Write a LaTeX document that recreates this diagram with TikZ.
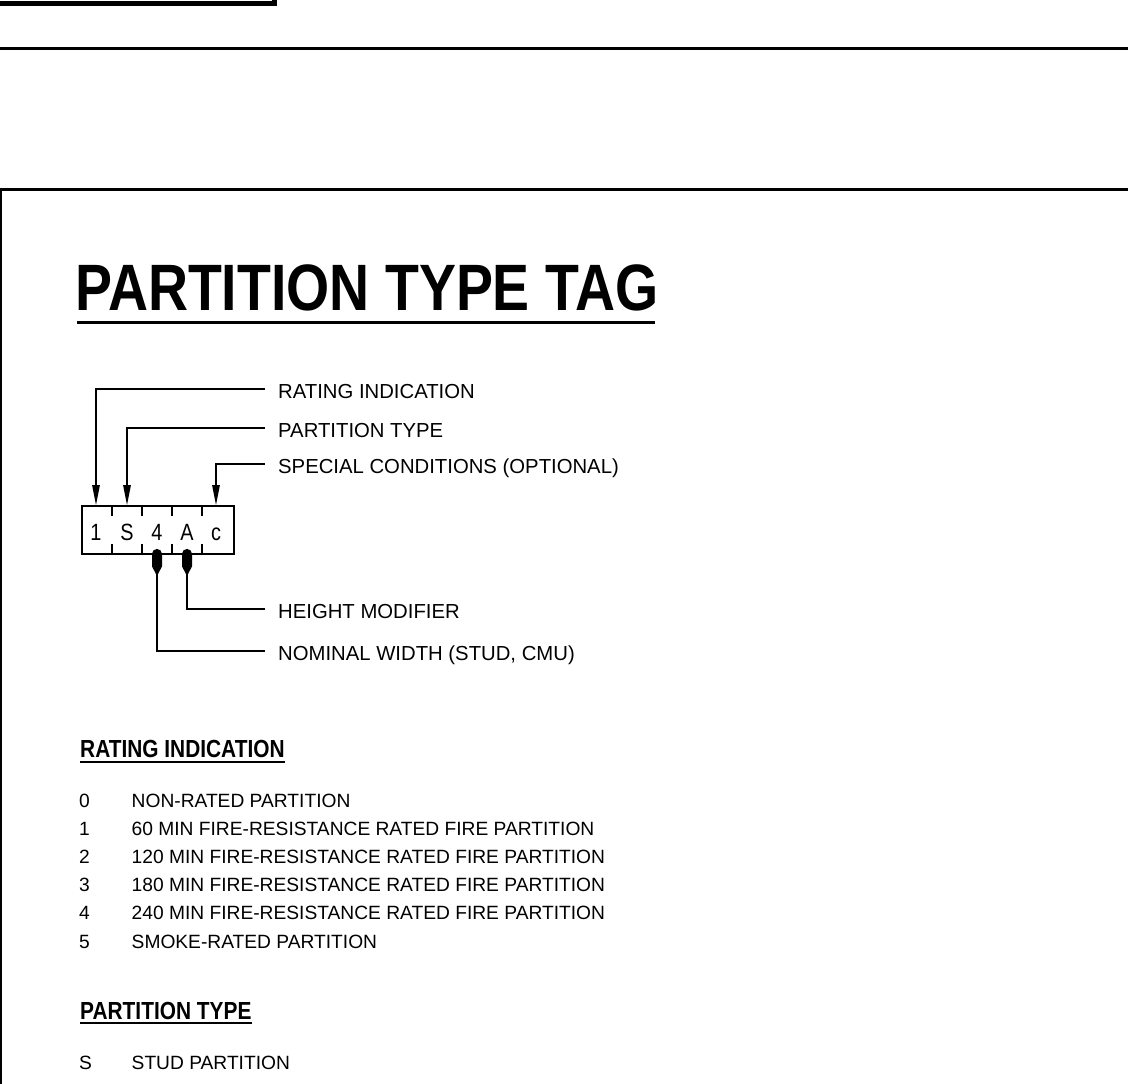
\documentclass[tikz,border=0pt]{standalone}
\usepackage{fontspec}
\setmainfont{Liberation Sans}
\newfontfamily\narrowfont{Liberation Sans}[FakeStretch=0.845]
\usetikzlibrary{positioning, arrows.meta}
% round-nosed filled head of the lower leaders
\pgfdeclarearrow{
  name = Bullet,
  parameters = {\the\pgfarrowlength,\the\pgfarrowwidth},
  setup code = {
    \pgfarrowssettipend{0pt}
    \pgfarrowssetlineend{-.5\pgfarrowlength}
    \pgfarrowssetbackend{-\pgfarrowlength}
    \pgfarrowssavethe\pgfarrowlength
    \pgfarrowssavethe\pgfarrowwidth
  },
  drawing code = {
    \pgfpathmoveto{\pgfpoint{-\pgfarrowlength}{0pt}}
    \pgfpathlineto{\pgfpoint{-.65\pgfarrowlength}{.5\pgfarrowwidth}}
    \pgfpathlineto{\pgfpoint{-.5\pgfarrowwidth}{.5\pgfarrowwidth}}
    \pgfpatharc{90}{-90}{.5\pgfarrowwidth}
    \pgfpathlineto{\pgfpoint{-.65\pgfarrowlength}{-.5\pgfarrowwidth}}
    \pgfpathclose
    \pgfusepathqfill
  },
  defaults = {length=27pt, width=10pt}
}
\tikzset{
  tagletter/.style = {anchor=base, inner sep=0pt,
                      font=\narrowfont\fontsize{23.5}{23.5}\selectfont},
  leadlabel/.style = {anchor=west, inner xsep=13pt, inner ysep=0pt,
                      text height=19.5pt, text depth=0pt,
                      font=\fontsize{20.3}{20.3}\selectfont},
  leadline/.style  = {line width=1.2pt},
  pointdown/.style = {leadline, -{Triangle[length=20pt, width=7.5pt]}},
  pointup/.style   = {leadline, -{Bullet[length=27pt, width=10pt]}, shorten >=-6pt},
  heading/.style   = {anchor=base west, inner sep=0pt,
                      font=\narrowfont\bfseries\fontsize{24.7}{24.7}\selectfont},
  itemcode/.style  = {anchor=base west, inner sep=0pt,
                      font=\fontsize{19.2}{19.2}\selectfont},
  headrule/.style  = {line width=2.5pt}
}

\begin{document}
\begin{tikzpicture}[x=1pt, y=-1pt]
\useasboundingbox (0,0) rectangle (1128,1084);
\clip (0,0) rectangle (1128,1084);

% sheet borders
\draw[line width=5pt] (-10,-10) rectangle (274.5,3);
\draw[line width=3pt] (0,48) -- (1128,48);
\draw[line width=2.8pt] (1,189.5) rectangle (1140,1100);

% title
\node[anchor=base west, inner sep=0pt,
      font=\narrowfont\bfseries\fontsize{65.6}{66}\selectfont] (title) at (75,310) {PARTITION TYPE TAG};
\draw[headrule, line width=3pt] (77,322.5) -- (655,322.5);

% tag
\node[draw, line width=1.8pt, minimum width=152pt, minimum height=48pt, inner sep=0pt] (tag) at (158,530) {};
\foreach \x in {112,142,172,202}
  \draw[line width=1.5pt] (\x,506) -- ++(0,10) (\x,554) -- ++(0,-10);
\node[tagletter] (c1) at (96,540) {1};
\node[tagletter] (c2) at (127,540) {S};
\node[tagletter] (c3) at (157,540) {4};
\node[tagletter] (c4) at (187,540) {A};
\node[tagletter] (c5) at (216,540) {c};

\node[leadlabel] (lbrate) at (265,389) {RATING INDICATION};
\node[leadlabel] (lbtype) at (265,428) {PARTITION TYPE};
\node[leadlabel] (lbspec) at (265,464) {SPECIAL CONDITIONS (OPTIONAL)};
\node[leadlabel] (lbheight) at (265,609) {HEIGHT MODIFIER};
\node[leadlabel] (lbwidth) at (265,651) {NOMINAL WIDTH (STUD, CMU)};

\draw[pointdown] (lbrate.west) -| (tag.north -| c1);
\draw[pointdown] (lbtype.west) -| (tag.north -| c2);
\draw[pointdown] (lbspec.west) -| (tag.north -| c5);
\draw[pointup] (lbheight.west) -| (tag.south -| c4);
\draw[pointup] (lbwidth.west) -| (tag.south -| c3);

% rating list
\node[heading] (hrate) at (80,757) {RATING INDICATION};
\draw[headrule] ([yshift=-5pt]hrate.base west) -- ([yshift=-5pt]hrate.base east);
\node[itemcode] (r0) at (79,807) {0};
\node[itemcode] (t0) at (131.5,807) {NON-RATED PARTITION};
\node[itemcode] (r1) at (79,835.2) {1};
\node[itemcode] (t1) at (131.5,835.2) {60 MIN FIRE-RESISTANCE RATED FIRE PARTITION};
\node[itemcode] (r2) at (79,863.4) {2};
\node[itemcode] (t2) at (131.5,863.4) {120 MIN FIRE-RESISTANCE RATED FIRE PARTITION};
\node[itemcode] (r3) at (79,891.6) {3};
\node[itemcode] (t3) at (131.5,891.6) {180 MIN FIRE-RESISTANCE RATED FIRE PARTITION};
\node[itemcode] (r4) at (79,919.8) {4};
\node[itemcode] (t4) at (131.5,919.8) {240 MIN FIRE-RESISTANCE RATED FIRE PARTITION};
\node[itemcode] (r5) at (79,948) {5};
\node[itemcode] (t5) at (131.5,948) {SMOKE-RATED PARTITION};

% type list
\node[heading] (htype) at (80,1019) {PARTITION TYPE};
\draw[headrule] ([yshift=-4pt]htype.base west) -- ([yshift=-4pt]htype.base east);
\node[itemcode] (pS) at (79,1069) {S};
\node[itemcode] (tS) at (131.5,1069) {STUD PARTITION};
\node[itemcode] (pC) at (79,1098) {C};
\node[itemcode] (tC) at (131.5,1098) {SHAFT WALL};
\end{tikzpicture}
\end{document}
